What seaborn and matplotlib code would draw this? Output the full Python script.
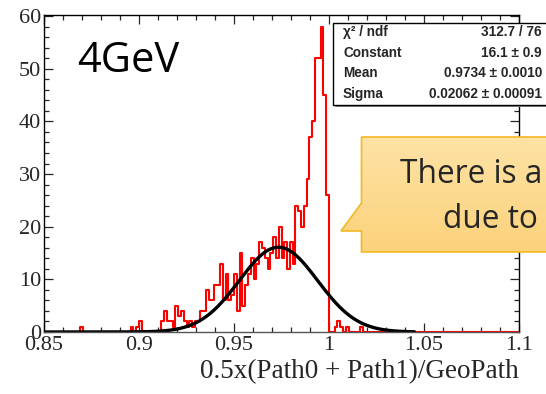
import numpy as np
import pandas as pd
import matplotlib
matplotlib.use("Agg")
import matplotlib.pyplot as plt
import seaborn as sns
from matplotlib.ticker import MultipleLocator, FormatStrFormatter
from matplotlib.patches import Rectangle, Polygon
from matplotlib.colors import LinearSegmentedColormap

# ---------------- data ----------------
x_min, x_max, n_bins = 0.85, 1.1, 170
core_start = 42
core_counts = [2, 4, 2, 2, 1, 5, 3, 4, 2, 1,
               2, 1, 2, 2, 4, 4, 8, 6, 6, 9,
               9, 13, 6, 11, 6, 7, 11, 4, 15, 5,
               9, 11, 14, 10, 13, 17, 16, 14, 12, 15,
               18, 14, 20, 14, 17, 12, 17, 13, 24, 23,
               20, 24, 29, 37, 40, 52, 52, 58, 45, 26]
sparse_bins = [13, 31, 33, 34, 104, 105, 106, 108, 113]
sparse_counts = [1, 1, 1, 2, 1, 2, 1, 1, 1]

fit_const, fit_mean, fit_sigma = 16.1, 0.9734, 0.02062
fit_lo, fit_hi = 0.85, 1.045

stats_names = ["\u03c7\u00b2 / ndf", "Constant", "Mean", "Sigma"]
stats_values = ["312.7 / 76", "16.1 \u00b1 0.9", "0.9734 \u00b1 0.0010", "0.02062 \u00b1 0.00091"]
x_label = "0.5x(Path0 + Path1)/GeoPath"
energy_label = "4GeV"
callout_lines = ["There is a", "due to"]

# ---------------- build ----------------
edges = np.linspace(x_min, x_max, n_bins + 1)
centers = 0.5 * (edges[:-1] + edges[1:])
counts = np.zeros(n_bins)
counts[core_start:core_start + len(core_counts)] = core_counts
for b, c in zip(sparse_bins, sparse_counts):
    counts[b] = c
df = pd.DataFrame({"x": centers, "w": counts})

xs = np.linspace(fit_lo, fit_hi, 500)
fit_df = pd.DataFrame({"x": xs, "y": fit_const * np.exp(-0.5 * ((xs - fit_mean) / fit_sigma) ** 2)})

sns.set_style("ticks")
plt.rcParams["font.family"] = ["Liberation Serif", "DejaVu Serif"]

W, H = 546, 394
fig = plt.figure(figsize=(W / 100, H / 100), dpi=100)
L, R, T, B = 44, 519, 14.5, 332
ax = fig.add_axes([L / W, 1 - B / H, (R - L) / W, (B - T) / H])

sns.histplot(data=df, x="x", weights="w", bins=n_bins, binrange=(x_min, x_max),
             element="step", fill=False, color="#ff0000", linewidth=1.5, ax=ax)
sns.lineplot(data=fit_df, x="x", y="y", color="black", linewidth=2.4, ax=ax)

ax.set_xlim(x_min, x_max)
ax.set_ylim(0, 60.3)
ax.set_ylabel("")
ax.set_xlabel(x_label, fontsize=19.5, ha="right", x=1.0, labelpad=3)
ax.xaxis.set_major_locator(MultipleLocator(0.05))
ax.xaxis.set_minor_locator(MultipleLocator(0.01))
ax.yaxis.set_major_locator(MultipleLocator(10))
ax.yaxis.set_minor_locator(MultipleLocator(2))
ax.xaxis.set_major_formatter(FormatStrFormatter("%g"))
ax.yaxis.set_major_formatter(FormatStrFormatter("%g"))
ax.tick_params(which="both", direction="in", top=True, right=True, labelsize=16, width=0.9)
ax.tick_params(which="major", length=6.5)
ax.tick_params(which="minor", length=3.4)
ax.tick_params(axis="x", pad=3)
ax.tick_params(axis="y", pad=2)
for s in ax.spines.values():
    s.set_linewidth(1.0)
    s.set_color("black")
ax.spines["bottom"].set_color("#555555")

# ---------------- overlay (annotations in pixel coords) ----------------
ov = fig.add_axes([0, 0, 1, 1], zorder=5)
ov.axis("off")
ov.patch.set_alpha(0)

ov.text(77, 72, energy_label, fontsize=30, family="Open Sans", color="black", va="baseline")

# stats box
ov.add_patch(Rectangle((335, 25), 230, 82, facecolor="#8a8a8a", edgecolor="none"))
ov.add_patch(Rectangle((333, 23), 230, 82, facecolor="white", edgecolor="black", linewidth=1.0))
for i, (n, v) in enumerate(zip(stats_names, stats_values)):
    y = 32 + i * 20.7
    ov.text(343, y, n, fontsize=9.8, family="Liberation Sans", weight="bold", va="center", ha="left")
    ov.text(542, y, v, fontsize=9.8, family="Liberation Sans", weight="bold", va="center", ha="right")

# callout
pts = [(361.5, 137), (570, 137), (570, 252), (361.5, 252), (361.5, 231), (341, 231), (361.5, 203)]
grad = np.linspace(0, 1, 100).reshape(-1, 1)
cm = LinearSegmentedColormap.from_list("g", ["#fee3a6", "#fcd27b"])
im = ov.imshow(grad, cmap=cm, extent=(330, 570, 252, 137), aspect="auto", zorder=2)
fillpoly = Polygon(pts, closed=True, facecolor="none", edgecolor="none")
ov.add_patch(fillpoly)
im.set_clip_path(fillpoly)
ov.add_patch(Polygon(pts, closed=True, facecolor="none", edgecolor="#f2b824", linewidth=1.2, zorder=3))
ov.text(400, 183, callout_lines[0], fontsize=22.8, family="Open Sans", va="baseline", zorder=4)
ov.text(443, 228, callout_lines[1], fontsize=22.8, family="Open Sans", va="baseline", zorder=4)
ov.set_xlim(0, W)
ov.set_ylim(H, 0)

fig.savefig("out.png", dpi=100)
